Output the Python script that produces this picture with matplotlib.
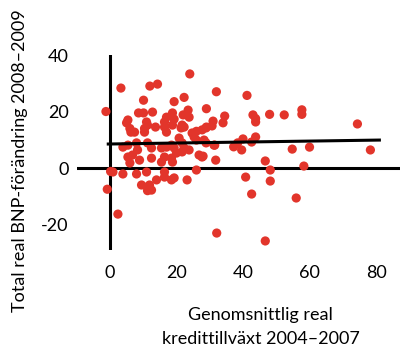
import numpy as np
import matplotlib
matplotlib.use('Agg')
from matplotlib import pyplot as plt

plt.rcParams['font.family'] = ['Lato', 'DejaVu Sans']
plt.rcParams['axes.unicode_minus'] = False

# kredittillväxt 2004-2007 (x) och BNP-förändring 2008-2009 (y)
credit = [-1.2, -0.8, 2.4, 3.3, 12, 14.3, 24, 10.1, 19.3, 22.3, 32, 41.2, 29, 23.5,
          8.6, 10.1, 12.8, 18.8, 5.4, 5, 11, 11.3, 17, 16.4, 6, 10.4, 22, 23.8, 19.3,
          18.5, 34.5, 34, 31, 30.7, 29, 27.7, 21.7, 21.4, 18.8, 26, 43, 43.8, 43.8,
          48, 52.4, 57.7, 57.7, 74.4, 43.8, 42.6, 40, 38.4, 37.2, 39.6, 31.5, 54.8,
          60, 78.3, 46.7, 48.2, 58.3, 40.8, 48.2, 42.6, 56, 32.1, 46.7,
          6.3, 7.4, 10.4, 13.7, 16.4, 17,
          3.9, 5.4, 8, 8.3, 11.3, 12.5, 15.5, 17,
          5.4, 6.8, 8.9, 6, 12.5, 15.5, 16.4,
          0.9, 3.9, 8, 11, 16.4, 16.4, 18.5, 9.5, 11.9, 12.5, 11.3, 14, 11.3,
          18.5, 19.3, 20, 18.5, 18.8, 20.8, 21.7, 22.3, 23.8, 21.7, 25.3, 26, 28.3,
          28.9, 31.3, 26.8, 27.7, 31.8, 26, 19.3, 23.2, 22.3, 24.7, 28.9, 28, 0.2]
gdp = [20, -7.5, -16.3, 28.3, 29, 29.7, 33.3, 24, 23.5, 25, 27, 25.7, 21, 20.5,
       19.5, 19.5, 19.8, 19.5, 17, 16, 16.3, 15.2, 18, 16.3, 14, 14, 18.8, 18, 17.3,
       18.4, 18.4, 16, 16.6, 14.9, 14.5, 13.5, 15.2, 14.2, 15.2, 13, 18.8, 17.5, 16.3,
       19, 18.8, 20.6, 19, 15.6, 11, 9.2, 10.3, 8.9, 7.5, 6.4, 8.1, 6.7,
       7.4, 6.4, 2.5, -0.7, 0.7, -3.2, -4.6, -9.2, -10.6, -23, -25.8,
       12.7, 12.7, 12.7, 14.5, 14.5, 12.7,
       7.4, 8.1, 8.9, 6.4, 8.9, 7.1, 7.1, 7.4,
       3.9, 4.6, 2.8, 1.8, 3.5, 2.1, 3.9,
       -1.4, -2.1, -2.1, -1.4, -1.4, -3.2, -4.2, -6, -6, -7.8, -6.7, -4.2, -8,
       8.1, 7.1, 5.3, 3.5, 2.1, 10.6, 8.9, 7.1, 6.4, 5.7, 11, 9.9, 9.9,
       8.9, 8.1, 4.6, 3.9, 2.8, -0.7, -3.5, -4.2, 14.5, 12.4, 14.2, 4.2, -1.2]

# trendlinje
trend_x = [-0.5, 81]
trend_y = [8.5, 9.9]

xticks = [0, 20, 40, 60, 80]
yticks = [-20, 0, 20, 40]

fig = plt.figure(figsize=(4.07, 3.46), dpi=100)
ax = fig.add_axes([77/407, 96/346, 323/407, 195/346])

ax.scatter(credit, gdp, s=44, color='#e2352b', edgecolors='none', zorder=3)
ax.plot(trend_x, trend_y, color='black', lw=2.2, zorder=4)
ax.axhline(0, color='black', lw=2.2, zorder=2)
ax.axvline(0, color='black', lw=2.2, zorder=2)

for s in ax.spines.values():
    s.set_visible(False)
ax.set_xlim(-9.9, 87.2)
ax.set_ylim(-29, 40)
ax.set_xticks(xticks)
ax.set_yticks(yticks)
ax.tick_params(length=0, labelsize=13)
ax.tick_params(axis='x', pad=11)
ax.tick_params(axis='y', pad=6)

fig.text(20/407, 1 - 161/346, 'Total real BNP-förändring 2008–2009', rotation=90,
         ha='center', va='center', fontsize=13)
fig.text(260/407, (346-320)/346, 'Genomsnittlig real', ha='center', va='baseline', fontsize=13)
fig.text(261/407, (346-344)/346, 'kredittillväxt 2004–2007', ha='center', va='baseline', fontsize=13)

fig.savefig('out.png', dpi=100)
